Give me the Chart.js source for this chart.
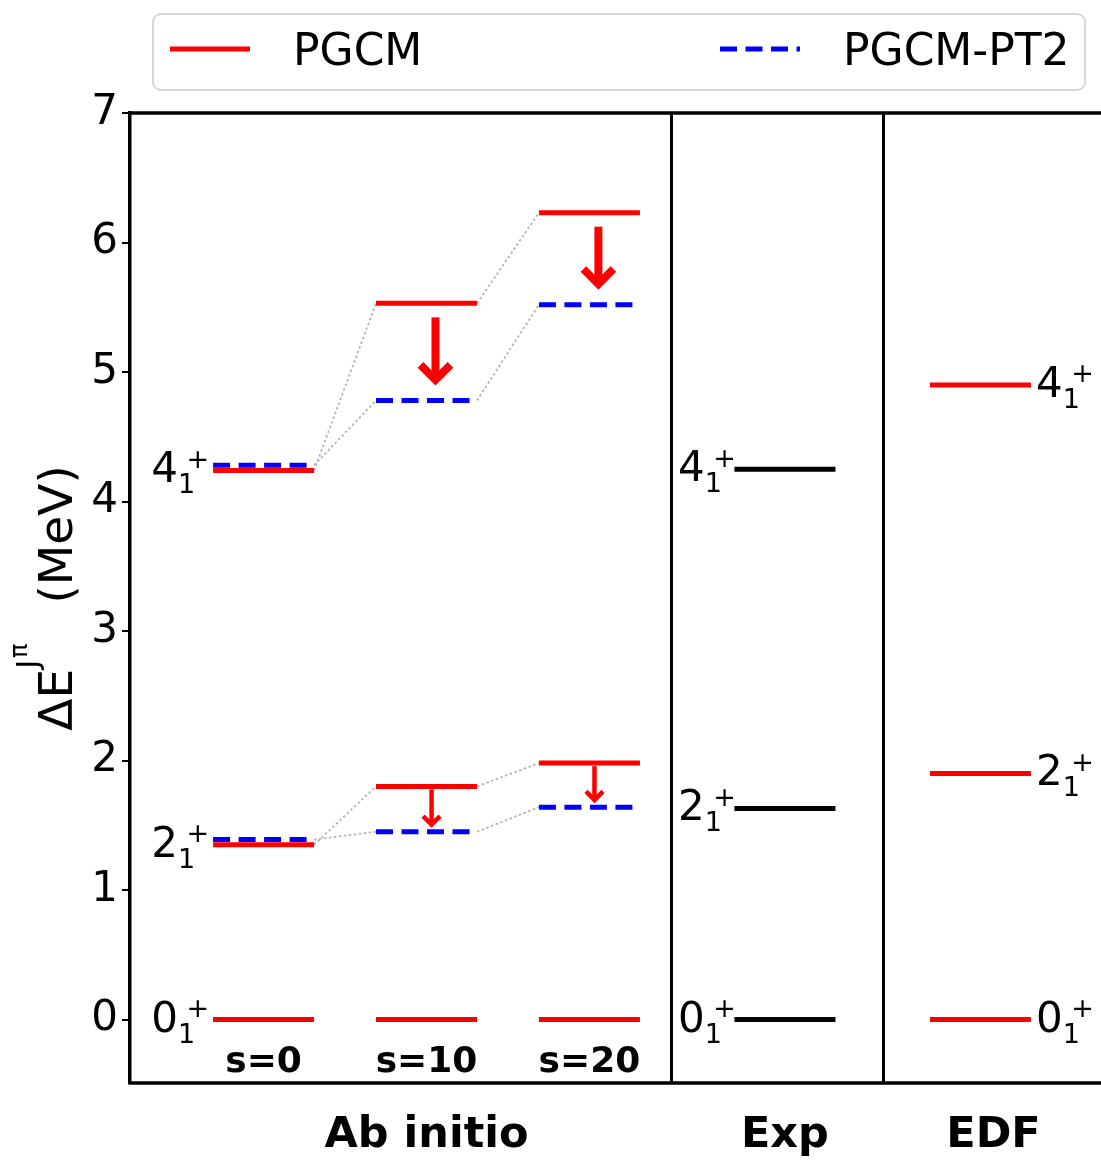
<!DOCTYPE html>
<html>
<head>
<meta charset="utf-8">
<script src="https://cdn.jsdelivr.net/npm/chart.js@4.4.0/dist/chart.umd.min.js"></script>
<style>
  html, body { margin: 0; padding: 0; background: #fff; }
</style>
</head>
<body>
<canvas id="levels" width="1101" height="1161"></canvas>
<script>
    "use strict";

    // level data (MeV), index = state 0+, 2+, 4+
    const states = ['0', '2', '4'];
    const columns = ['s=0', 's=10', 's=20'];
    const panels = ['Ab initio', 'Exp', 'EDF'];
    const pgcmS0 = [0, 1.35, 4.24];
    const pgcmS10 = [0, 1.80, 5.53];
    const pgcmS20 = [0, 1.98, 6.23];
    const pt2S0 = [0, 1.39, 4.28];
    const pt2S10 = [0, 1.45, 4.78];
    const pt2S20 = [0, 1.64, 5.52];
    const expLevels = [0, 1.63, 4.25];
    const edfLevels = [0, 1.90, 4.90];
    const yTicks = [0, 1, 2, 3, 4, 5, 6, 7];

    const pgcmCols = [pgcmS0, pgcmS10, pgcmS20];
    const pt2Cols = [pt2S0, pt2S10, pt2S20];

    // horizontal layout in axis units
    const colX = [0, 1, 2];
    const expX = 3.2, edfX = 4.4, halfW = 0.31;
    const sepX = [2.5, 3.8];
    const panelX = [1, 3.2, 4.48];

    const FONT = "'DejaVu Sans', sans-serif";
    const RED = '#ff0000', BLUE = '#0000ff', GRAY = '#b4b4b4';

    // arrow look per state (2+ thin, 4+ thick)
    const arrowStyle = [null,
        { lw: 4.5, arm: 8.5, gapStart: 3, gapEnd: 4, dx: 0.031 },
        { lw: 8, arm: 15, gapStart: 14, gapEnd: 15, dx: 0.055 }];

    function levelSegments(list) {
        let pts = [];
        list.forEach(function (item) {
            let x = item[0];
            item[1].forEach(function (v) {
                pts.push({ x: x - halfW, y: v }, { x: x + halfW, y: v }, { x: x + halfW, y: null });
            });
        });
        return pts;
    }

    function connectorSegments(cols) {
        let pts = [];
        for (let s = 1; s < states.length; s++) {
            for (let c = 0; c < cols.length - 1; c++) {
                pts.push({ x: colX[c] + halfW, y: cols[c][s] },
                         { x: colX[c + 1] - halfW, y: cols[c + 1][s] },
                         { x: colX[c + 1], y: null });
            }
        }
        return pts;
    }

    // J_1^+ style label
    function stateLabel(ctx, J, x, y, align, gap) {
        ctx.font = '42px ' + FONT;
        let mainW = ctx.measureText(J).width;
        ctx.font = '27px ' + FONT;
        let supW = ctx.measureText('+').width;
        let total = mainW + 8.5 + supW;
        let x0 = align === 'right' ? x - gap - total : x + gap;
        ctx.fillStyle = '#000';
        ctx.textAlign = 'left';
        ctx.textBaseline = 'alphabetic';
        ctx.font = '42px ' + FONT;
        ctx.fillText(J, x0, y + 12);
        ctx.font = '27px ' + FONT;
        ctx.fillText('1', x0 + mainW, y + 23);
        ctx.fillText('+', x0 + mainW + 8.5, y - 2.5);
    }

    const decor = {
        id: 'decor',
        afterDatasetsDraw: function (chart) {
            let ctx = chart.ctx, xs = chart.scales.x, ys = chart.scales.y;
            ctx.save();
            ctx.strokeStyle = RED;
            [1, 2].forEach(function (c) {
                [1, 2].forEach(function (s) {
                    let st = arrowStyle[s];
                    let x = xs.getPixelForValue(colX[c] + st.dx);
                    let yA = ys.getPixelForValue(pgcmCols[c][s]) + st.gapStart;
                    let tip = ys.getPixelForValue(pt2Cols[c][s]) - st.gapEnd - st.lw * 0.71;
                    ctx.lineWidth = st.lw;
                    ctx.lineCap = 'butt';
                    ctx.lineJoin = 'miter';
                    ctx.beginPath();
                    ctx.moveTo(x, yA);
                    ctx.lineTo(x, tip);
                    ctx.stroke();
                    ctx.beginPath();
                    ctx.moveTo(x - st.arm, tip - st.arm);
                    ctx.lineTo(x, tip);
                    ctx.lineTo(x + st.arm, tip - st.arm);
                    ctx.stroke();
                });
            });
            ctx.restore();
        },
        afterDraw: function (chart) {
            let ctx = chart.ctx, xs = chart.scales.x, ys = chart.scales.y, a = chart.chartArea;
            ctx.save();

            // panel separators and spines
            ctx.strokeStyle = '#000';
            ctx.lineWidth = 3;
            sepX.forEach(function (v) {
                let x = Math.round(xs.getPixelForValue(v)) + 0.5;
                ctx.beginPath();
                ctx.moveTo(x, a.top);
                ctx.lineTo(x, a.bottom);
                ctx.stroke();
            });
            ctx.lineWidth = 3.5;
            ctx.beginPath();
            ctx.moveTo(a.left - 1.5, a.top);
            ctx.lineTo(a.right, a.top);
            ctx.moveTo(a.left - 1.5, a.bottom);
            ctx.lineTo(a.right, a.bottom);
            ctx.stroke();

            // state labels
            states.forEach(function (J, i) {
                stateLabel(ctx, J, xs.getPixelForValue(colX[0] - halfW), ys.getPixelForValue(pgcmS0[i]), 'right', 4);
                stateLabel(ctx, J, xs.getPixelForValue(expX - halfW), ys.getPixelForValue(expLevels[i]), 'right', -1.5);
                stateLabel(ctx, J, xs.getPixelForValue(edfX + halfW), ys.getPixelForValue(edfLevels[i]), 'left', 5);
            });

            // column and panel names
            ctx.fillStyle = '#000';
            ctx.textAlign = 'center';
            ctx.textBaseline = 'alphabetic';
            ctx.font = 'bold 36px ' + FONT;
            columns.forEach(function (t, i) {
                ctx.fillText(t, xs.getPixelForValue(colX[i]), 1072);
            });
            ctx.font = 'bold 43px ' + FONT;
            panels.forEach(function (t, i) {
                ctx.fillText(t, xs.getPixelForValue(panelX[i]), 1147);
            });

            // y axis title: Delta E^{J^pi} (MeV)
            ctx.save();
            ctx.translate(72, 598);
            ctx.rotate(-Math.PI / 2);
            let parts = [
                { t: '\u0394E', size: 47, dv: 0, pad: 0 },
                { t: 'J', size: 30, dv: -34, pad: 0 },
                { t: '\u03c0', size: 24, dv: -45, pad: 2 },
                { t: '(MeV)', size: 47, dv: 0, pad: 40 }
            ];
            let total = 0;
            parts.forEach(function (p) {
                ctx.font = p.size + 'px ' + FONT;
                p.w = ctx.measureText(p.t).width;
                total += p.pad + p.w;
            });
            let u = -total / 2;
            ctx.textAlign = 'left';
            parts.forEach(function (p) {
                u += p.pad;
                ctx.font = p.size + 'px ' + FONT;
                ctx.fillText(p.t, u, p.dv);
                u += p.w;
            });
            ctx.restore();

            // legend
            ctx.fillStyle = 'rgba(255,255,255,0.8)';
            ctx.strokeStyle = '#d6d6d6';
            ctx.lineWidth = 2;
            ctx.beginPath();
            ctx.roundRect(153, 14, 932, 76, 8);
            ctx.fill();
            ctx.stroke();
            let items = [chart.data.datasets[0], chart.data.datasets[1]];
            let lx = [170, 720];
            items.forEach(function (ds, i) {
                ctx.strokeStyle = ds.borderColor;
                ctx.lineWidth = ds.borderWidth;
                ctx.lineCap = 'butt';
                ctx.setLineDash(ds.borderDash || []);
                ctx.beginPath();
                ctx.moveTo(lx[i], 49);
                ctx.lineTo(lx[i] + 80, 49);
                ctx.stroke();
                ctx.setLineDash([]);
                ctx.fillStyle = '#000';
                ctx.font = '44px ' + FONT;
                ctx.textAlign = 'left';
                ctx.fillText(ds.label, lx[i] + 123, 65);
            });
            ctx.restore();
        }
    };

    new Chart(document.getElementById('levels'), {
        type: 'line',
        data: {
            datasets: [{
                label: 'PGCM',
                data: levelSegments([[colX[0], pgcmS0], [colX[1], pgcmS10], [colX[2], pgcmS20], [edfX, edfLevels]]),
                borderColor: RED,
                borderWidth: 5,
                order: 1
            }, {
                label: 'PGCM-PT2',
                data: levelSegments(colX.map(function (x, i) { return [x, pt2Cols[i]]; })),
                borderColor: BLUE,
                borderWidth: 5,
                borderDash: [17, 8.5],
                order: 2
            }, {
                label: 'Exp',
                data: levelSegments([[expX, expLevels]]),
                borderColor: '#000',
                borderWidth: 5,
                order: 3
            }, {
                label: 'links',
                data: connectorSegments(pgcmCols).concat(connectorSegments(pt2Cols)),
                borderColor: GRAY,
                borderWidth: 1.8,
                borderDash: [2.5, 2.5],
                order: 4
            }]
        },
        options: {
            responsive: false,
            animation: false,
            devicePixelRatio: 1,
            layout: { padding: { top: 113, bottom: 78, left: 0, right: 0 } },
            elements: {
                point: { radius: 0, hoverRadius: 0 },
                line: { tension: 0, fill: false, borderCapStyle: 'butt' }
            },
            plugins: {
                legend: { display: false },
                tooltip: { enabled: false }
            },
            scales: {
                x: { type: 'linear', display: false, min: -0.82, max: 5.14 },
                y: {
                    min: -0.49,
                    max: 7,
                    afterFit: function (scale) { scale.width = 130; },
                    afterBuildTicks: function (scale) {
                        scale.ticks = yTicks.map(function (v) { return { value: v }; });
                    },
                    ticks: { font: { family: FONT, size: 42 }, color: '#000', padding: 4 },
                    grid: { drawOnChartArea: false, drawTicks: true, tickLength: 8, color: '#000', lineWidth: 2 },
                    border: { display: true, color: '#000', width: 3.5 }
                }
            }
        },
        plugins: [decor]
    });
</script>
</body>
</html>
